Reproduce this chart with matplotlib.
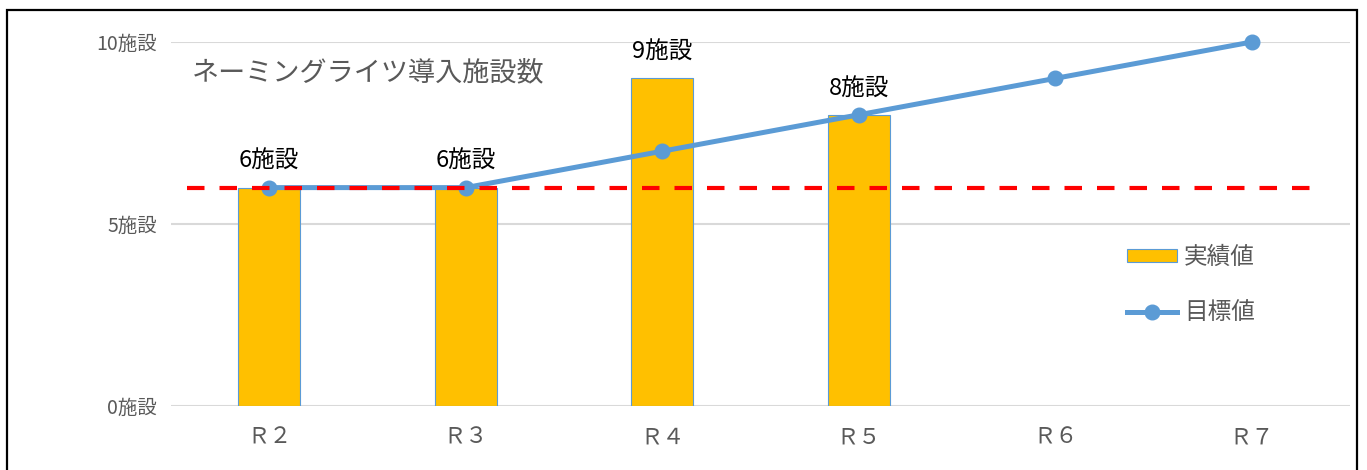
import matplotlib
matplotlib.use('Agg')
import matplotlib.pyplot as plt
from matplotlib import patches
from matplotlib.lines import Line2D
import numpy as np

plt.rcParams['font.family'] = ['Noto Sans CJK JP', 'DejaVu Sans']

# data
years = ['Ｒ２', 'Ｒ３', 'Ｒ４', 'Ｒ５', 'Ｒ６', 'Ｒ７']
actual = [6, 6, 9, 8]            # 実績値
target = [6, 6, 7, 8, 9, 10]     # 目標値
baseline = 6                     # red dashed reference
yticks = [0, 5, 10]

BAR = '#FFC000'
BLUE = '#5B9BD5'
GRAY = '#595959'

fig = plt.figure(figsize=(13.67, 4.70), dpi=100)
ax = fig.add_axes([171 / 1367, 1 - 406 / 470, 1179 / 1367, 364 / 470])

x = np.arange(len(years))
ax.bar(x[:len(actual)], actual, width=0.315, color=BAR,
       edgecolor=BLUE, linewidth=0.8, zorder=2)

ax.plot(x, target, color=BLUE, linewidth=3.6, marker='o', markersize=10.5,
        zorder=3, clip_on=False)

# red dashed reference line
ax.plot([-0.42, 5.31], [baseline, baseline], color='#FF0000', linewidth=3,
        dashes=(4.2, 3.6), zorder=4, clip_on=False)

# data labels on bars
for i, v in enumerate(actual):
    ax.text(x[i], v + 0.4, f'{v}施設', ha='center', va='bottom',
            fontsize=17, color='black', zorder=5)

ax.set_xlim(-0.5, len(years) - 0.5)
ax.set_ylim(0, 10)
ax.set_xticks(x)
ax.set_xticklabels(years, fontsize=16, color=GRAY)
ax.set_yticks(yticks)
ax.set_yticklabels([f'{t}施設' for t in yticks], fontsize=14, color=GRAY)
ax.tick_params(length=0, pad=10)
ax.tick_params(axis='x', pad=14)
ax.grid(axis='y', color='#D9D9D9', linewidth=1.5, zorder=0)
ax.set_axisbelow(True)
for s in ax.spines.values():
    s.set_visible(False)

fig.text(192 / 1367, 1 - 73 / 470, 'ネーミングライツ導入施設数', fontsize=19.5,
         color=GRAY, ha='left', va='center')

handles = [
    patches.Patch(facecolor=BAR, edgecolor=BLUE, linewidth=0.8, label='実績値'),
    Line2D([0], [0], color=BLUE, linewidth=3.6, marker='o', markersize=10.5,
           label='目標値'),
]
leg = ax.legend(handles=handles, loc='center left',
                bbox_to_anchor=(1106 / 1367, 1 - 285 / 470),
                bbox_transform=fig.transFigure, frameon=False, fontsize=17,
                handlelength=2.1, handleheight=0.45, handletextpad=0.3,
                labelspacing=1.35)
for t in leg.get_texts():
    t.set_color(GRAY)

# outer frame
fig.patches.append(patches.Rectangle((7 / 1367, -0.05), 1350 / 1367,
                                     1.05 - 10.5 / 470, transform=fig.transFigure,
                                     fill=False, edgecolor='black', linewidth=1.6))

plt.savefig('out.png', dpi=100, facecolor='white')
plt.close(fig)
